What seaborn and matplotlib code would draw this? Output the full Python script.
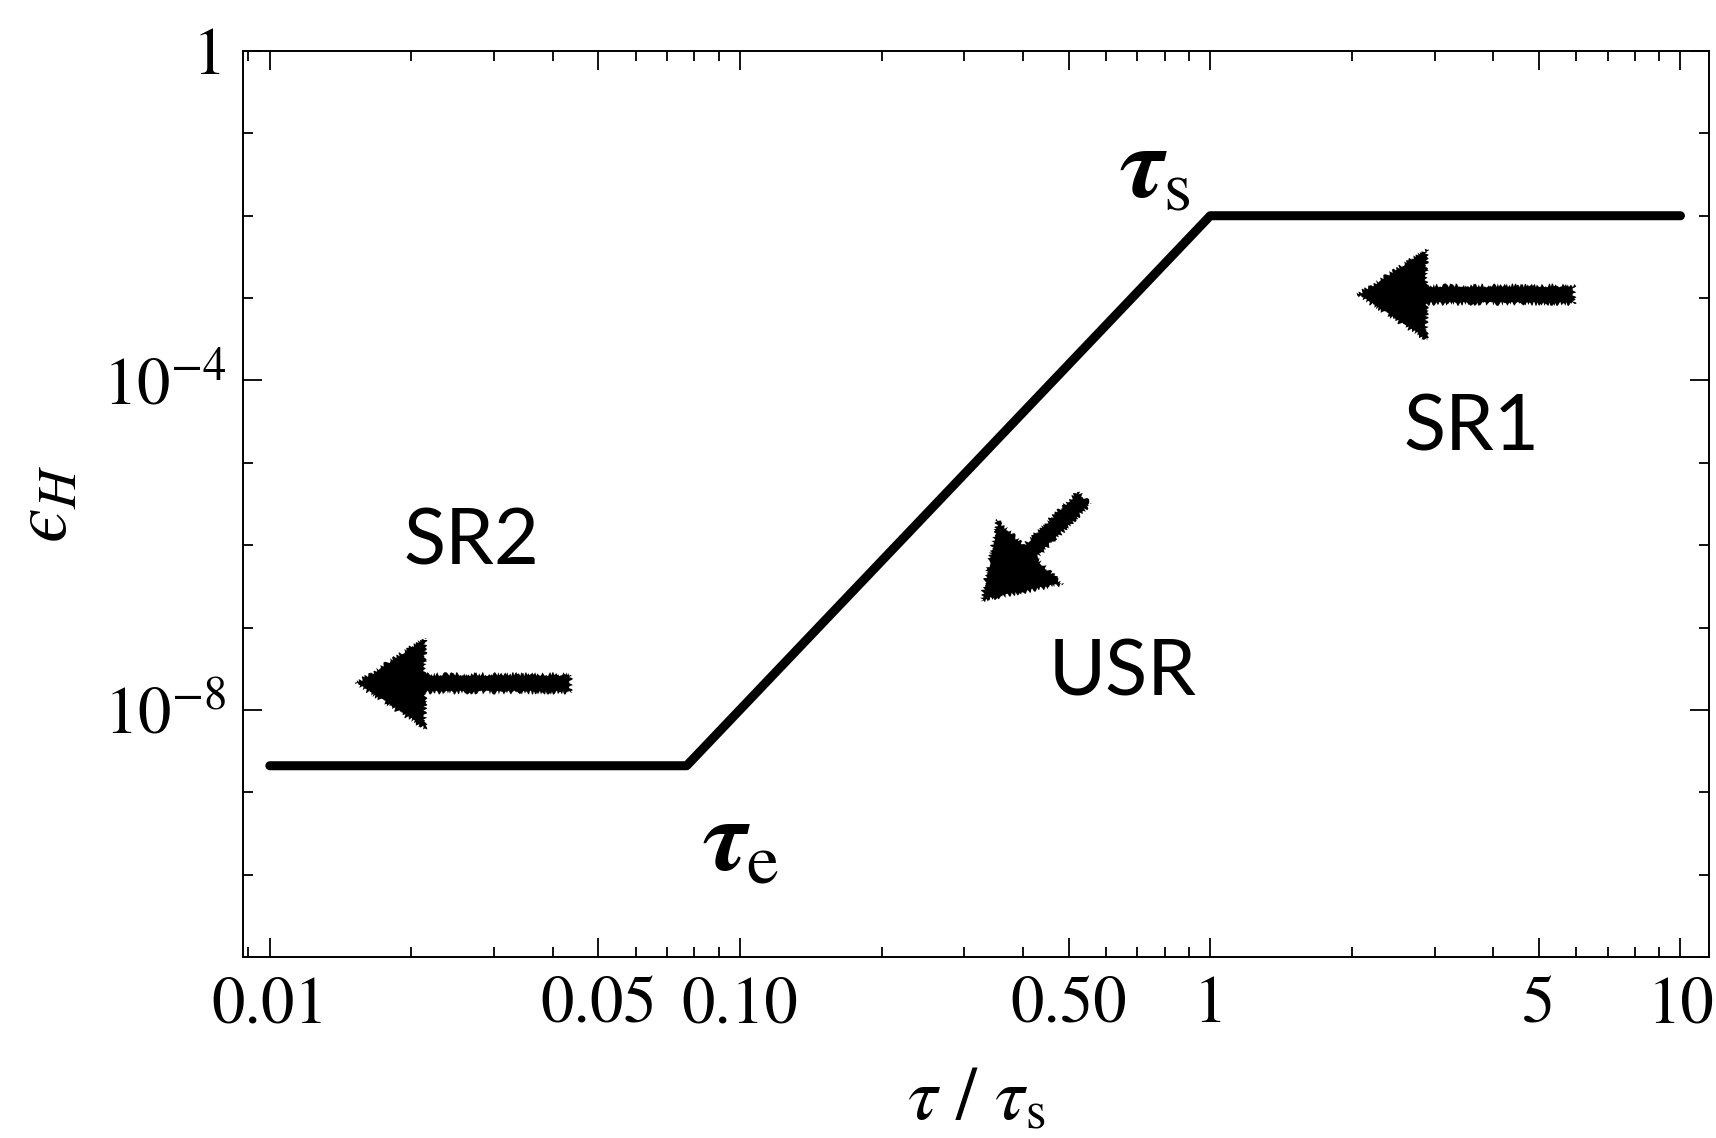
import matplotlib
matplotlib.use("Agg")
import matplotlib.pyplot as plt
from matplotlib.ticker import NullFormatter
import numpy as np
import pandas as pd
import seaborn as sns

# epsilon_H vs tau/tau_s, piecewise power law
tau = [0.01, 0.077, 1.0, 10.0]
eps_h = [2.1e-9, 2.1e-9, 1e-2, 1e-2]

x_major = [0.01, 0.05, 0.1, 0.5, 1, 5, 10]
x_major_labels = ["0.01", "0.05", "0.10", "0.50", "1", "5", "10"]
y_major = [1, 1e-4, 1e-8]
y_major_labels = ["1", r"$10^{-4}$", r"$10^{-8}$"]

# hand drawn arrows: (tail, tip)
arrows = [((5.95, 1.1e-3), (2.05, 1.1e-3)),
          ((0.0437, 2.1e-8), (0.0152, 2.1e-8)),
          ((0.54, 3.8e-6), (0.325, 2.1e-7))]
regions = [("SR1", 3.6, 2.6e-5), ("SR2", 0.0268, 1.05e-6), ("USR", 0.65, 2.7e-8)]

sns.set_theme(style="ticks")
plt.rcParams["font.family"] = ["STIXGeneral", "DejaVu Serif"]
plt.rcParams["mathtext.fontset"] = "stix"
for k in ["text.color", "axes.labelcolor", "xtick.color", "ytick.color", "axes.edgecolor"]:
    plt.rcParams[k] = "black"

df = pd.DataFrame({"tau": tau, "eps": eps_h})

fig = plt.figure(figsize=(17.16, 11.38), dpi=100)
ax = fig.add_axes([243 / 1716, 1 - 957 / 1138, (1709 - 243) / 1716, (957 - 51) / 1138])
sns.lineplot(data=df, x="tau", y="eps", ax=ax, color="black", lw=6.5, estimator=None, sort=False)
ax.set_xscale("log")
ax.set_yscale("log")
ax.set_xlim(0.00877, 11.5)
ax.set_ylim(1e-11, 1)

ax.set_xticks(x_major)
ax.set_xticklabels(x_major_labels)
minors = [m * 10.0 ** k for k in range(-3, 2) for m in range(2, 10)]
minors = [v for v in minors if 0.00877 <= v <= 11.5 and v not in x_major]
ax.set_xticks(minors, minor=True)
ax.set_yticks(y_major)
ax.set_yticklabels(y_major_labels)
ax.set_yticks([10.0 ** k for k in range(-11, 1) if k not in (0, -4, -8)], minor=True)
ax.xaxis.set_minor_formatter(NullFormatter())
ax.yaxis.set_minor_formatter(NullFormatter())

for s in ax.spines.values():
    s.set_linewidth(1.4)
ax.tick_params(which="both", direction="in", top=True, right=True, width=1.3)
ax.tick_params(which="major", length=14, labelsize=48, pad=12)
ax.tick_params(which="minor", length=7)
ax.tick_params(axis="x", which="major", pad=14)

ax.set_xlabel(r"$\tau\ /\ \tau_{\mathrm{s}}$", fontsize=54, labelpad=22)
ax.set_ylabel("$\u03f5_{H}$", fontsize=56, labelpad=14)

for tail, tip in arrows:
    a = ax.annotate("", xy=tip, xytext=tail,
                    arrowprops=dict(arrowstyle="simple,head_length=0.72,head_width=0.95,tail_width=0.19",
                                    mutation_scale=70, color="black", lw=0, shrinkA=0, shrinkB=0))
    a.arrow_patch.set_sketch_params(scale=2, length=3, randomness=4)

for name, x, y in regions:
    ax.text(x, y, name, fontsize=56, family=["Lato", "DejaVu Sans"],
            ha="center", va="center")

ax.text(0.76, 3.2e-2, r"$\mathbfit{\tau}_{\mathrm{s}}$", fontsize=74, ha="center", va="center")
ax.text(0.10, 2.2e-10, r"$\mathbfit{\tau}_{\mathrm{e}}$", fontsize=74, ha="center", va="center")

fig.savefig("out.png", dpi=100)
